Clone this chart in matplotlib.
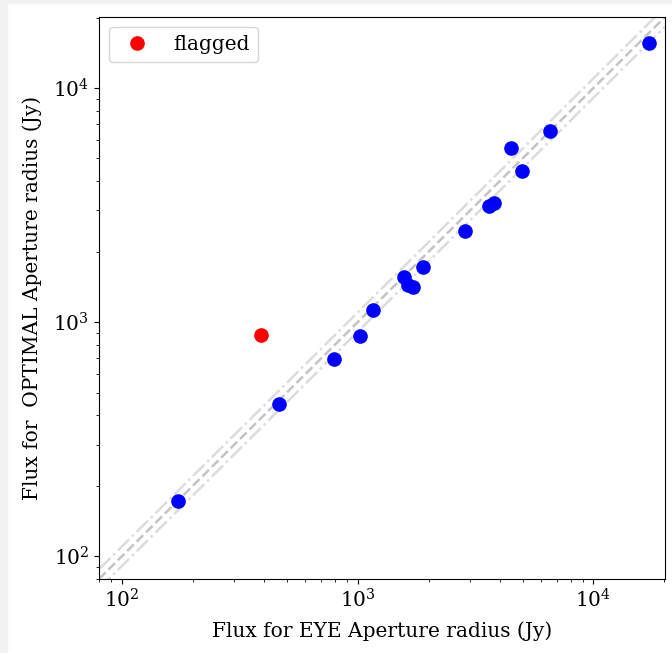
import matplotlib
matplotlib.use("Agg")
import numpy as np
import matplotlib.pyplot as plt
from matplotlib.patches import Rectangle

plt.rcParams['font.family'] = 'DejaVu Serif'
plt.rcParams['mathtext.fontset'] = 'dejavuserif'

# fluxes (Jy) for the two aperture choices
flux_eye = [173, 466, 797, 1018, 1156, 1565, 1640, 1709, 1901, 2841,
            3593, 3772, 4456, 4961, 6524, 17170]
flux_opt = [173, 445, 698, 875, 1130, 1563, 1440, 1410, 1726, 2447,
            3128, 3221, 5559, 4436, 6570, 15610]
flag_eye = [390]
flag_opt = [884]

lims = [80, 20100]

fig = plt.figure(figsize=(6.72, 6.53), dpi=100)
fig.patch.set_facecolor('white')
# light frame along the top and left edges
fig.patches.append(Rectangle((0, 0), 7 / 672, 1, transform=fig.transFigure,
                             color='#f2f2f2', zorder=-1))
fig.patches.append(Rectangle((0, 1 - 3 / 653), 1, 3 / 653, transform=fig.transFigure,
                             color='#f2f2f2', zorder=-1))

ax = fig.add_axes([99 / 672, 1 - 579 / 653, 566 / 672, 562 / 653])

xx = np.array(lims)
ax.plot(xx, xx, '--', color='#c4c4c4', lw=1.8, zorder=1)
ax.plot(xx, xx * 1.1, '-.', color='#dcdcdc', lw=1.8, zorder=1)
ax.plot(xx, xx / 1.1, '-.', color='#dcdcdc', lw=1.8, zorder=1)

ax.plot(flux_eye, flux_opt, 'o', color='blue', ms=9.5, zorder=3)
ax.plot(flag_eye, flag_opt, 'o', color='red', ms=9.5, zorder=3, label='flagged')

ax.set_xscale('log')
ax.set_yscale('log')
ax.set_xlim(lims)
ax.set_ylim(lims)

ax.set_xlabel('Flux for EYE Aperture radius (Jy)', fontsize=14.5, labelpad=7)
ax.set_ylabel('Flux for  OPTIMAL Aperture radius (Jy)', fontsize=14.5, labelpad=8)
ax.tick_params(labelsize=14.5)

ax.legend(loc='upper left', fontsize=14.5)

fig.savefig('out.png', dpi=100)
